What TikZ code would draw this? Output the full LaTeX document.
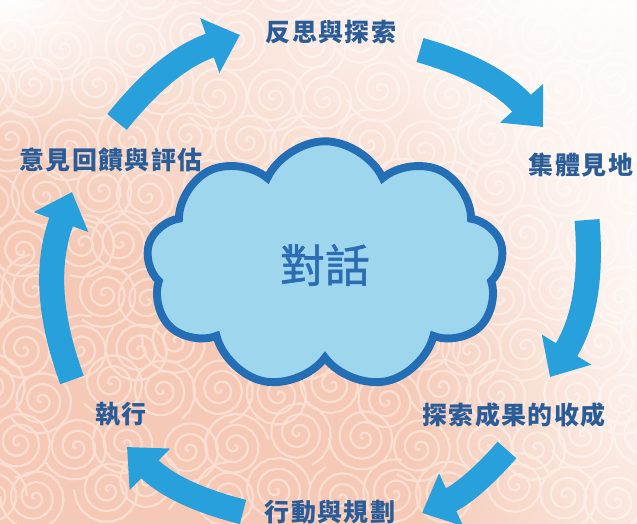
\documentclass[tikz,border=0pt]{standalone}
\usepackage{fontspec}
\newfontfamily\cjk[LetterSpace=6]{Noto Sans CJK TC}
\newfontfamily\cjktalk[FakeBold=1.2]{Noto Sans CJK TC}
\usepackage{tikz}
\usetikzlibrary{arrows.meta,shapes.symbols,fadings,positioning}

\definecolor{flowblue}{RGB}{40,160,220}
\definecolor{cloudfill}{RGB}{158,214,238}
\definecolor{cloudline}{RGB}{36,110,182}
\definecolor{labelblue}{RGB}{42,92,152}
\definecolor{talkblue}{RGB}{44,108,178}
\definecolor{peach}{RGB}{245,201,181}
\definecolor{swirlpeach}{RGB}{250,222,209}

\tikzfading[name=soft spot, inner color=transparent!0, outer color=transparent!100]

\begin{document}
\begin{tikzpicture}[x=0.02cm, y=-0.02cm,
    stagelabel/.style={text=labelblue, inner sep=0pt,
      font=\cjk\bfseries\fontsize{14.2}{16}\selectfont},
    flow/.style={draw=flowblue, line width=0.5cm,
      -{Triangle[length=0.64cm,width=1.12cm]}},
    swirl/.style={draw=swirlpeach, line width=1.3pt}]
  \useasboundingbox (0,0) rectangle (637,524);

  % background with swirls
  \fill[peach] (0,0) rectangle (637,524);
  \begin{scope}
    \clip (0,0) rectangle (637,524);
    \pgfmathsetseed{11}
    \foreach \i in {0,...,11}
      \foreach \j in {0,...,10} {
        \pgfmathsetmacro\cx{\i*58+mod(\j,2)*29-15+12*rand}
        \pgfmathsetmacro\cy{\j*50-8+10*rand}
        \pgfmathsetmacro\rot{360*rnd}
        \draw[swirl] plot[domain=0:1150, samples=60, variable=\t]
          ({\cx+0.03*\t*cos(\t+\rot)}, {\cy+0.03*\t*sin(\t+\rot)});
      }
    \fill[white, path fading=soft spot] (560,-30) ellipse (720 and 380);
    \fill[white, path fading=soft spot] (690,250) ellipse (300 and 640);
    \fill[white, path fading=soft spot] (0,0) ellipse (260 and 140);
  \end{scope}

  % the cloud
  \node[cloud, cloud puffs=9, cloud puff arc=130, cloud ignores aspect,
    shape border rotate=20,
    minimum width=7.15cm, minimum height=4.95cm,
    draw=cloudline, line width=4.5pt, fill=cloudfill,
    text=talkblue, font=\cjktalk\fontsize{25.6}{28}\selectfont]
    (talk) at (325,265) {對話};

  % stages
  \node[stagelabel] (reflect) at (331,32) {反思與探索};
  \node[stagelabel] (insight) at (581,165) {集體見地};
  \node[stagelabel] (harvest) at (514,415) {探索成果的收成};
  \node[stagelabel] (plan) at (330,512) {行動與規劃};
  \node[stagelabel] (act) at (121,414) {執行};
  \node[stagelabel] (feedback) at (111,160) {意見回饋與評估};

  % arrows round the cycle
  \coordinate (f1) at (72,380);  \coordinate (t1) at (72,192);
  \coordinate (f2) at (117,122); \coordinate (t2) at (240,35);
  \coordinate (f3) at (420,50);  \coordinate (t3) at (543,127);
  \coordinate (f4) at (587,220); \coordinate (t4) at (550,377);
  \coordinate (f5) at (507,450); \coordinate (t5) at (422,513);
  \coordinate (f6) at (243,512); \coordinate (t6) at (127,447);

  \draw[flow] (f1) to[bend left=20] (t1);
  \draw[flow] (f2) to[bend left=16] (t2);
  \draw[flow] (f3) to[bend left=16] (t3);
  \draw[flow] (f4) to[bend left=18] (t4);
  \draw[flow] (f5) to[bend left=12] (t5);
  \draw[flow] (f6) to[bend left=15] (t6);
\end{tikzpicture}
\end{document}
